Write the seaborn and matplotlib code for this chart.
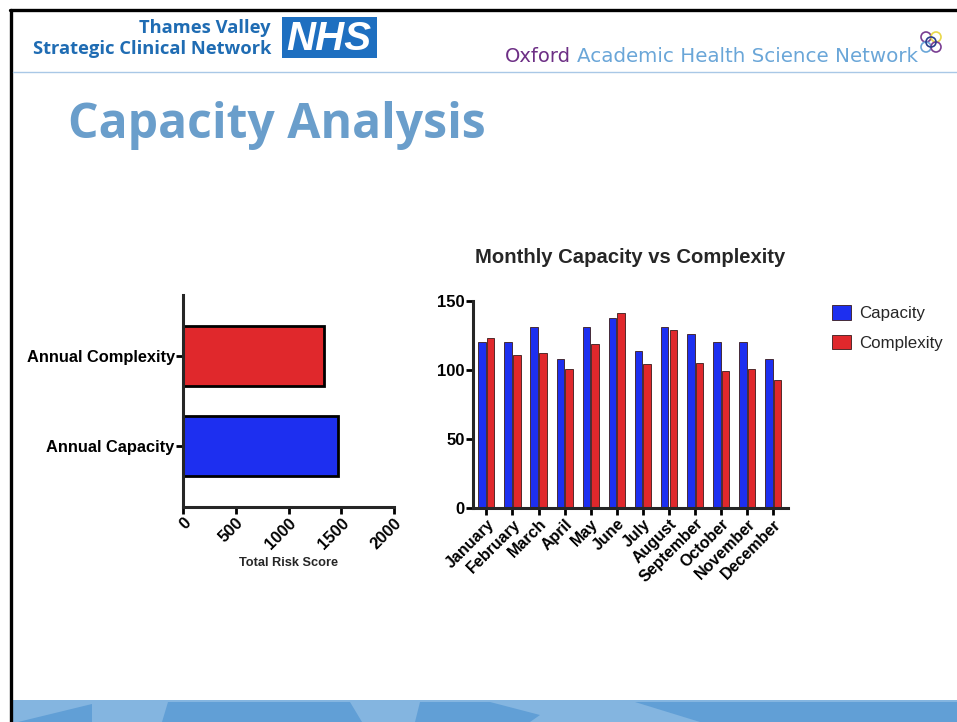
import numpy as np
import pandas as pd
import matplotlib
matplotlib.use('Agg')
import matplotlib.pyplot as plt
from matplotlib.patches import Rectangle, Polygon, Circle
import seaborn as sns

# data
months = ['January', 'February', 'March', 'April', 'May', 'June', 'July',
          'August', 'September', 'October', 'November', 'December']
capacity = [120, 120, 131, 108, 131, 138, 114, 131, 126, 120, 120, 108]
complexity = [123, 111, 112, 101, 119, 141, 104, 129, 105, 99, 101, 93]
annual_labels = ['Annual Complexity', 'Annual Capacity']
annual_values = [1338, 1467]
series = ['Capacity', 'Complexity']
x_ticks_left = [0, 500, 1000, 1500, 2000]
y_ticks_right = [0, 50, 100, 150]

BLUE = '#1d2ff0'
RED = '#e0282c'
W, H = 957, 722

sns.set_style('ticks')
plt.rcParams['font.family'] = ['Liberation Sans', 'DejaVu Sans']


def rect(left, top, right, bottom):
    # pixel box -> figure fraction
    return [left / W, 1 - bottom / H, (right - left) / W, (bottom - top) / H]


fig = plt.figure(figsize=(W / 100, H / 100), dpi=100)

# ---------- slide decoration ----------
deco = fig.add_axes([0, 0, 1, 1])
deco.set_xlim(0, W)
deco.set_ylim(H, 0)
deco.axis('off')
deco.plot([10, W], [10, 10], color='black', lw=2.4)
deco.plot([11, 11], [10, H], color='black', lw=2.4)
deco.plot([13, W], [72, 72], color='#a9c8e6', lw=1.0)

# bottom band
deco.add_patch(Rectangle((13, 700), W - 13, 22, color='#84b5e0', lw=0))
deco.add_patch(Polygon([[18, 722], [92, 704], [92, 722]], color='#619fd6', lw=0))
deco.add_patch(Polygon([[162, 722], [168, 702], [350, 702], [362, 722]], color='#619fd6', lw=0))
deco.add_patch(Polygon([[415, 722], [420, 702], [490, 702], [540, 715], [530, 722]], color='#619fd6', lw=0))
deco.add_patch(Polygon([[635, 702], [W, 702], [W, 722], [700, 722]], color='#619fd6', lw=0))

# NHS header
fig.text(271 / W, 1 - 33 / H, 'Thames Valley', ha='right', va='baseline',
         fontsize=13.2, fontweight='bold', color='#1f6cb3', family='Open Sans')
fig.text(271 / W, 1 - 54 / H, 'Strategic Clinical Network', ha='right', va='baseline',
         fontsize=13.2, fontweight='bold', color='#1f6cb3', family='Open Sans')
deco.add_patch(Rectangle((282, 17), 95, 41, color='#1e6fc0', lw=0))
deco.text(329, 38.5, 'NHS', ha='center', va='center', fontsize=29,
          fontweight='bold', style='italic', color='white')

# Oxford AHSN header
fig.text(505 / W, 1 - 62 / H, 'Oxford', ha='left', va='baseline',
         fontsize=14, color='#6d2f85', family='DejaVu Sans')
fig.text(577 / W, 1 - 62 / H, 'Academic Health Science Network', ha='left',
         va='baseline', fontsize=14.3, color='#6aa6d8', family='DejaVu Sans')
for (cx, cy), c in zip([(926, 37), (936, 37), (926, 47), (936, 47), (931, 42)],
                       ['#7a3e92', '#e9d84a', '#6aa6d8', '#7a3e92', '#2a3f8c']):
    deco.add_patch(Circle((cx, cy), 5, fill=False, ec=c, lw=1.2))

# title
fig.text(68 / W, 1 - 138 / H, 'Capacity Analysis', ha='left', va='baseline',
         fontsize=34.7, fontweight='bold', color='#6a9ecb', family='Open Sans')

# ---------- left chart: annual totals ----------
ax1 = fig.add_axes(rect(183, 295, 394, 507))
sns.barplot(x=annual_values, y=annual_labels, hue=annual_labels,
            palette=[RED, BLUE], saturation=1, legend=False, orient='h',
            width=0.67, edgecolor='black', linewidth=2, ax=ax1)
ax1.set_xlim(0, 2000)
ax1.set_ylim(1.68, -0.68)
ax1.set_xticks(x_ticks_left)
ax1.set_xticklabels([str(v) for v in x_ticks_left], rotation=45, ha='right',
                    rotation_mode='anchor', fontsize=12, fontweight='bold')
ax1.set_yticks(range(len(annual_labels)))
ax1.set_yticklabels(annual_labels, fontsize=11.8, fontweight='bold')
ax1.set_xlabel('Total Risk Score', fontsize=9.2, fontweight='bold', labelpad=4)
ax1.set_ylabel('')
sns.despine(ax=ax1)
for s in ['left', 'bottom']:
    ax1.spines[s].set_linewidth(2.2)
ax1.tick_params(width=2, length=5, pad=1, colors='black')

# ---------- right chart: monthly ----------
df = pd.DataFrame({
    'Month': months * 2,
    'Series': [series[0]] * len(months) + [series[1]] * len(months),
    'Value': capacity + complexity,
})
ax2 = fig.add_axes(rect(473, 301, 788, 508))
sns.barplot(data=df, x='Month', y='Value', hue='Series', order=months,
            palette={'Capacity': BLUE, 'Complexity': RED}, saturation=1,
            width=0.66, gap=0.12, edgecolor='#3a1a1a', linewidth=0.6, ax=ax2)
ax2.set_xlim(-0.51, 11.56)
ax2.set_ylim(0, 150)
ax2.set_yticks(y_ticks_right)
ax2.set_yticklabels([str(v) for v in y_ticks_right], fontsize=12, fontweight='bold')
ax2.set_xticks(range(len(months)))
ax2.set_xticklabels(months, rotation=45, ha='right', rotation_mode='anchor',
                    fontsize=11.5, fontweight='bold')
ax2.set_xlabel('')
ax2.set_ylabel('')
sns.despine(ax=ax2)
for s in ['left', 'bottom']:
    ax2.spines[s].set_linewidth(2.2)
ax2.tick_params(width=2, length=5, pad=1, colors='black')
ax2.set_title('Monthly Capacity vs Complexity', fontsize=14.6, fontweight='bold',
              pad=27.5)
ax2.legend(loc='upper left', bbox_to_anchor=(832 / W, 1 - 305 / H),
           bbox_transform=fig.transFigure, frameon=False, fontsize=12.2,
           handlelength=1.1, handleheight=0.95, handletextpad=0.5,
           labelspacing=0.8, borderaxespad=0, borderpad=0)

fig.savefig('out.png', dpi=100, facecolor='white')
